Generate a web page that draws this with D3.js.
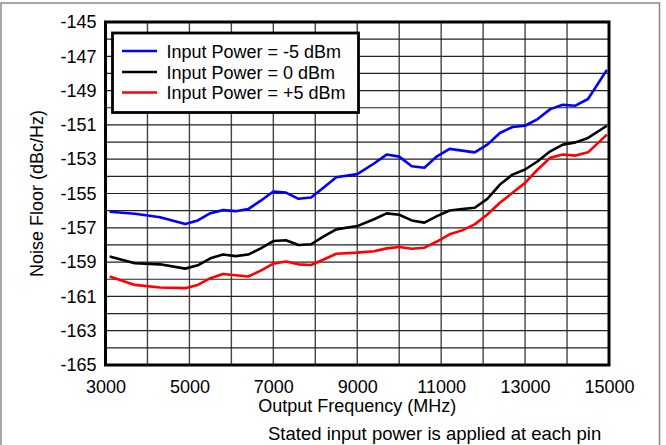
<!DOCTYPE html>
<html><head><meta charset="utf-8">
<script src="https://cdn.jsdelivr.net/npm/d3@7"></script>
<style>
html,body{margin:0;padding:0;background:#fff;}
svg{display:block;font-family:"Liberation Sans",Arial,sans-serif;}
</style></head>
<body><svg id="c" width="666" height="445"></svg>
<script>
const freqs = [3100,3700,4300,4900,5200,5500,5800,6100,6400,6700,7000,7300,7600,7900,8200,8500,9000,9400,9700,10000,10300,10600,10900,11200,11500,11800,12100,12400,12700,13000,13300,13600,13900,14200,14500,14950];
const noiseM5 = [-156.06,-156.18,-156.38,-156.78,-156.57,-156.15,-155.97,-156.03,-155.91,-155.42,-154.88,-154.95,-155.31,-155.23,-154.65,-154.05,-153.87,-153.25,-152.73,-152.85,-153.41,-153.5,-152.83,-152.40,-152.5,-152.6,-152.15,-151.47,-151.12,-151.05,-150.66,-150.08,-149.83,-149.88,-149.49,-147.79];
const noise0 = [-158.68,-159.07,-159.13,-159.38,-159.19,-158.78,-158.56,-158.65,-158.56,-158.2,-157.77,-157.73,-158.0,-157.96,-157.5,-157.09,-156.9,-156.5,-156.16,-156.24,-156.57,-156.7,-156.32,-155.99,-155.9,-155.83,-155.31,-154.48,-153.9,-153.6,-153.12,-152.54,-152.15,-152.02,-151.76,-151.05];
const noiseP5 = [-159.84,-160.33,-160.48,-160.52,-160.33,-159.94,-159.69,-159.77,-159.84,-159.5,-159.09,-158.97,-159.13,-159.17,-158.85,-158.51,-158.45,-158.37,-158.2,-158.12,-158.22,-158.16,-157.8,-157.38,-157.15,-156.8,-156.22,-155.54,-154.96,-154.38,-153.6,-152.92,-152.73,-152.79,-152.6,-151.57];
const seriesNames = ["Input Power = -5 dBm","Input Power = 0 dBm","Input Power = +5 dBm"];
const seriesColors = ["#0000ff","#000000","#ff0000"];
const xTicks = [3000,5000,7000,9000,11000,13000,15000];
const yTicks = [-165,-163,-161,-159,-157,-155,-153,-151,-149,-147,-145];
const xTitle = "Output Frequency (MHz)";
const yTitle = "Noise Floor (dBc/Hz)";
const note = "Stated input power is applied at each pin";

const svg = d3.select("#c");
const L=105.5, R=609, T=22, B=365;
const x = d3.scaleLinear().domain([3000,15000]).range([L,R]);
const y = d3.scaleLinear().domain([-165,-145]).range([B,T]);
const fmt = d => String(d);

// outer frame
svg.append("path").attr("d",`M1,446 V3 H659.5 V446`).attr("fill","none").attr("stroke","#8a8a8a").attr("stroke-width",1.5);

// grid
const g = svg.append("g");
g.selectAll(".vg").data(d3.range(4000,15000,1000)).join("line")
  .attr("x1",d=>x(d)).attr("x2",d=>x(d)).attr("y1",T).attr("y2",B)
  .attr("stroke","#444").attr("stroke-width",1.4);
g.selectAll(".hg").data(d3.range(-164,-145,1)).join("line")
  .attr("y1",d=>y(d)).attr("y2",d=>y(d)).attr("x1",L).attr("x2",R)
  .attr("stroke","#222").attr("stroke-width",1.2);

// axes (labels only)
const xa = svg.append("g").attr("transform",`translate(0,${B})`)
  .call(d3.axisBottom(x).tickValues(xTicks).tickFormat(fmt).tickSize(0).tickPadding(15));
xa.select(".domain").remove();
xa.selectAll("text").attr("font-size",18).attr("fill","#000").attr("font-family","Liberation Sans, Arial, sans-serif");
const ya = svg.append("g").attr("transform",`translate(${L},0)`)
  .call(d3.axisLeft(y).tickValues(yTicks).tickFormat(fmt).tickSize(0).tickPadding(9));
ya.select(".domain").remove();
ya.selectAll("text").attr("font-size",18).attr("fill","#000").attr("font-family","Liberation Sans, Arial, sans-serif");

// lines
const data = [noiseM5, noise0, noiseP5];
const line = d3.line().x((d,i)=>x(freqs[i])).y(d=>y(d));
svg.append("g").selectAll("path").data(data).join("path")
  .attr("d",d=>line(d)).attr("fill","none")
  .attr("stroke",(d,i)=>seriesColors[i]).attr("stroke-width",2.6).attr("stroke-linejoin","round");

// plot frame
svg.append("rect").attr("x",L).attr("y",T).attr("width",R-L).attr("height",B-T)
  .attr("fill","none").attr("stroke","#000").attr("stroke-width",3);

// legend
const lg = svg.append("g");
lg.append("rect").attr("x",112.5).attr("y",33).attr("width",246).attr("height",79.5)
  .attr("fill","#fff").attr("stroke","#000").attr("stroke-width",2.8);
const rows = [51,72,92.5];
seriesNames.forEach((n,i)=>{
  lg.append("line").attr("x1",122).attr("x2",157).attr("y1",rows[i]).attr("y2",rows[i])
    .attr("stroke",seriesColors[i]).attr("stroke-width",2.6);
  lg.append("text").attr("x",166.5).attr("y",rows[i]+6.5).attr("font-size",18).text(n);
});

// titles
svg.append("text").attr("x",(L+R)/2).attr("y",412).attr("text-anchor","middle").attr("font-size",18).text(xTitle);
svg.append("text").attr("transform",`translate(43,${(T+B)/2}) rotate(-90)`).attr("text-anchor","middle").attr("font-size",18).text(yTitle);
svg.append("text").attr("x",268).attr("y",440).attr("font-size",18.5).text(note);
</script></body></html>
